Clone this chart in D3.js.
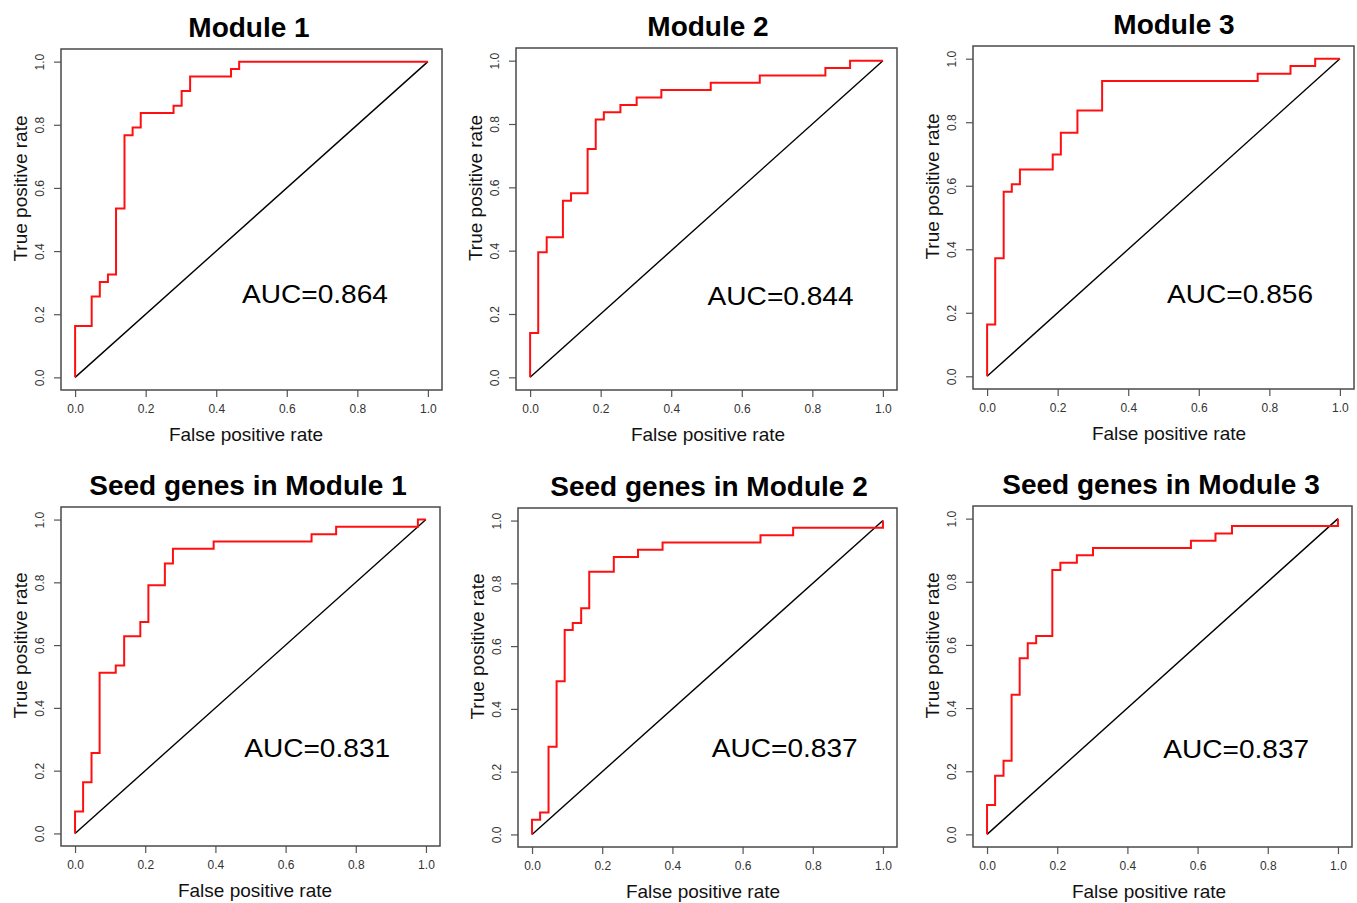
<!DOCTYPE html>
<html>
<head>
<meta charset="utf-8">
<script src="https://cdn.jsdelivr.net/npm/d3@7"></script>
<style>
  html, body { margin: 0; padding: 0; background: #fff; }
  svg { display: block; font-family: "Liberation Sans", Arial, Helvetica, sans-serif; }
</style>
</head>
<body>
<svg id="chart" width="1357" height="903"></svg>
<script>
// ---- data ----
const panelTitles = ["Module 1", "Module 2", "Module 3",
                     "Seed genes in Module 1", "Seed genes in Module 2", "Seed genes in Module 3"];
const aucValues = [0.864, 0.844, 0.856, 0.831, 0.837, 0.837];
const tickValues = [0, 0.2, 0.4, 0.6, 0.8, 1.0];
const tickLabels = ["0.0", "0.2", "0.4", "0.6", "0.8", "1.0"];
const xAxisTitle = "False positive rate";
const yAxisTitle = "True positive rate";

// ROC breakpoints (false positive rate, true positive rate)
const module1Fpr = [0, 0, 0.047, 0.070, 0.093, 0.116, 0.140, 0.163, 0.186, 0.279, 0.302, 0.326, 0.442, 0.465, 1.0];
const module1Tpr = [0, 0.163, 0.256, 0.302, 0.326, 0.535, 0.767, 0.791, 0.837, 0.860, 0.907, 0.953, 0.977, 1.0, 1.0];

const module2Fpr = [0, 0, 0.023, 0.047, 0.093, 0.116, 0.163, 0.186, 0.209, 0.256, 0.302, 0.372, 0.512, 0.651, 0.837, 0.907, 1.0];
const module2Tpr = [0, 0.140, 0.395, 0.442, 0.558, 0.581, 0.721, 0.814, 0.837, 0.860, 0.884, 0.907, 0.930, 0.953, 0.977, 1.0, 1.0];

const module3Fpr = [0, 0, 0.023, 0.047, 0.070, 0.093, 0.186, 0.209, 0.256, 0.326, 0.767, 0.860, 0.930, 1.0];
const module3Tpr = [0, 0.163, 0.372, 0.581, 0.605, 0.651, 0.698, 0.767, 0.837, 0.930, 0.953, 0.977, 1.0, 1.0];

const seed1Fpr = [0, 0, 0.023, 0.047, 0.070, 0.116, 0.140, 0.186, 0.209, 0.256, 0.279, 0.395, 0.674, 0.744, 0.977, 1.0];
const seed1Tpr = [0, 0.070, 0.163, 0.256, 0.512, 0.535, 0.628, 0.674, 0.791, 0.860, 0.907, 0.930, 0.953, 0.977, 1.0, 1.0];

const seed2Fpr = [0, 0, 0.023, 0.047, 0.070, 0.093, 0.116, 0.140, 0.163, 0.233, 0.302, 0.372, 0.651, 0.744, 1.0];
const seed2Tpr = [0, 0.047, 0.070, 0.279, 0.488, 0.651, 0.674, 0.721, 0.837, 0.884, 0.907, 0.930, 0.953, 0.977, 1.0];

const seed3Fpr = [0, 0, 0.023, 0.047, 0.070, 0.093, 0.116, 0.140, 0.186, 0.209, 0.256, 0.302, 0.581, 0.651, 0.698, 1.0];
const seed3Tpr = [0, 0.093, 0.186, 0.233, 0.442, 0.558, 0.605, 0.628, 0.837, 0.860, 0.884, 0.907, 0.930, 0.953, 0.977, 1.0];

const seriesFpr = [module1Fpr, module2Fpr, module3Fpr, seed1Fpr, seed2Fpr, seed3Fpr];
const seriesTpr = [module1Tpr, module2Tpr, module3Tpr, seed1Tpr, seed2Tpr, seed3Tpr];

// ---- layout: plot box of each panel, title centre, x-title centre, AUC label anchor ----
const layout = [
  { x: 61,  y: 49,  w: 381, h: 341, titleX: 249,    xTitleX: 246, aucX: 0.68,  aucY: 0.235 },
  { x: 516, y: 48,  w: 381, h: 342, titleX: 708,    xTitleX: 708, aucX: 0.71,  aucY: 0.230 },
  { x: 973, y: 46,  w: 381, h: 343, titleX: 1174,   xTitleX: 1169, aucX: 0.717, aucY: 0.230 },
  { x: 61,  y: 507, w: 379, h: 339, titleX: 248,    xTitleX: 255, aucX: 0.69,  aucY: 0.242 },
  { x: 518, y: 508, w: 379, h: 339, titleX: 709,    xTitleX: 703, aucX: 0.72,  aucY: 0.246 },
  { x: 973, y: 506, w: 379, h: 341, titleX: 1161,   xTitleX: 1149, aucX: 0.71,  aucY: 0.241 }
];

const svg = d3.select("#chart");
const fmt = d3.format(".3f");

layout.forEach((L, i) => {
  // R-style 4% padding around the [0,1] range
  const x = d3.scaleLinear().domain([-0.04, 1.04]).range([L.x, L.x + L.w]);
  const y = d3.scaleLinear().domain([-0.04, 1.04]).range([L.y + L.h, L.y]);
  const g = svg.append("g");

  // title
  g.append("text")
    .attr("x", L.titleX).attr("y", L.y - 12)
    .attr("text-anchor", "middle")
    .attr("font-size", 28).attr("font-weight", "bold").attr("fill", "#000")
    .text(panelTitles[i]);

  // x axis
  const xAxis = d3.axisBottom(x)
    .tickValues(tickValues)
    .tickFormat((d, k) => tickLabels[k])
    .tickSize(7).tickPadding(7);
  const gx = g.append("g").attr("transform", `translate(0,${L.y + L.h})`).call(xAxis);
  gx.select(".domain").remove();
  gx.selectAll(".tick line").attr("stroke", "#555").attr("stroke-width", 1.2);
  gx.selectAll(".tick text").attr("font-size", 12).attr("fill", "#333")
    .attr("font-family", "'Liberation Sans', Arial, sans-serif");

  // y axis with labels rotated parallel to the axis
  const yAxis = d3.axisLeft(y)
    .tickValues(tickValues)
    .tickFormat((d, k) => tickLabels[k])
    .tickSize(7);
  const gy = g.append("g").attr("transform", `translate(${L.x},0)`).call(yAxis);
  gy.select(".domain").remove();
  gy.selectAll(".tick line").attr("stroke", "#555").attr("stroke-width", 1.2);
  gy.selectAll(".tick text")
    .attr("font-size", 12).attr("fill", "#333")
    .attr("font-family", "'Liberation Sans', Arial, sans-serif")
    .attr("text-anchor", "middle")
    .attr("transform", "rotate(-90)")
    .attr("x", 0).attr("y", -17).attr("dy", null);

  // chance diagonal
  g.append("line")
    .attr("x1", x(0)).attr("y1", y(0)).attr("x2", x(1)).attr("y2", y(1))
    .attr("stroke", "#000").attr("stroke-width", 1.4);

  // ROC staircase
  const pts = seriesFpr[i].map((f, k) => [f, seriesTpr[i][k]]);
  const line = d3.line().x(d => x(d[0])).y(d => y(d[1])).curve(d3.curveStepAfter);
  g.append("path")
    .attr("d", line(pts))
    .attr("fill", "none").attr("stroke", "#ff1010").attr("stroke-width", 2)
    .attr("stroke-linejoin", "miter");

  // plot box
  g.append("rect")
    .attr("x", L.x).attr("y", L.y).attr("width", L.w).attr("height", L.h)
    .attr("fill", "none").attr("stroke", "#4a4a4a").attr("stroke-width", 1.5);

  // AUC label
  g.append("text")
    .attr("x", x(L.aucX)).attr("y", y(L.aucY))
    .attr("text-anchor", "middle")
    .attr("font-size", 26).attr("fill", "#000")
    .attr("textLength", 146).attr("lengthAdjust", "spacingAndGlyphs")
    .text("AUC=" + fmt(aucValues[i]));

  // axis titles
  g.append("text")
    .attr("x", L.xTitleX).attr("y", L.y + L.h + 51)
    .attr("text-anchor", "middle")
    .attr("font-size", 19).attr("fill", "#111")
    .text(xAxisTitle);

  g.append("text")
    .attr("transform", `translate(${L.x - 34},${L.y + L.h / 2 - 31}) rotate(-90)`)
    .attr("text-anchor", "middle")
    .attr("font-size", 19).attr("fill", "#111")
    .text(yAxisTitle);
});
</script>
</body>
</html>
